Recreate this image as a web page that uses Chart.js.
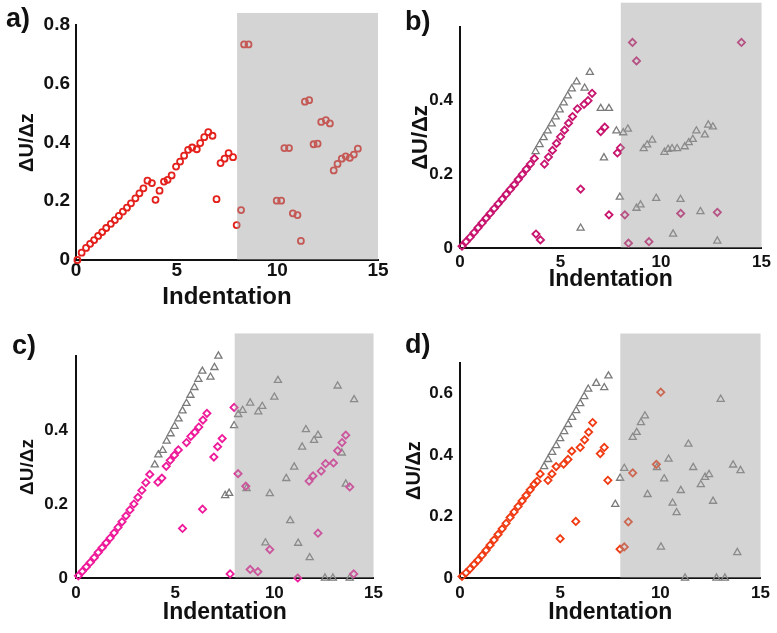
<!DOCTYPE html>
<html>
<head>
<meta charset="utf-8">
<script src="https://cdn.jsdelivr.net/npm/chart.js@4/dist/chart.umd.min.js"></script>
<style>
  body { margin: 0; background: #fff; }
  canvas { position: absolute; }
</style>
</head>
<body>
<canvas id="panelA" width="390" height="310" style="left:0;top:0"></canvas>
<canvas id="panelB" width="387" height="300" style="left:390px;top:0"></canvas>
<canvas id="panelC" width="390" height="333" style="left:0;top:300px"></canvas>
<canvas id="panelD" width="387" height="333" style="left:390px;top:300px"></canvas>
<script>
// tick labels
const xTicks = [0, 5, 10, 15];
const yTicksA = [0, 0.2, 0.4, 0.6, 0.8];
const yTicksB = [0, 0.2, 0.4];
const yTicksC = [0, 0.2, 0.4];
const yTicksD = [0, 0.2, 0.4, 0.6];

// a) circles
const aCircX = [0.07, 0.28, 0.5, 0.7, 0.9, 1.1, 1.3, 1.5, 1.73, 1.93, 2.13, 2.33, 2.53, 2.73, 2.95, 3.15, 3.35, 3.55, 3.77, 3.95,
  4.15, 4.37, 4.55, 4.75, 4.97, 5.17, 5.37, 5.57, 5.77, 6.0, 6.17, 6.37, 6.57, 6.78, 6.98, 7.18, 7.38, 7.58, 7.8, 7.98,
  8.2, 8.35, 8.57, 9.97, 10.19, 10.35, 10.58, 10.77, 11.0, 11.17, 11.37, 11.58, 11.8, 12.0, 12.18, 12.41, 12.61, 12.8,
  12.99, 13.2, 13.4, 13.6, 13.8, 14.0];
const aCircY = [0, 0.025, 0.041, 0.055, 0.068, 0.082, 0.095, 0.109, 0.123, 0.136, 0.15, 0.165, 0.178, 0.193, 0.21, 0.227, 0.244, 0.27, 0.262, 0.205,
  0.236, 0.267, 0.273, 0.288, 0.318, 0.335, 0.355, 0.375, 0.383, 0.377, 0.398, 0.418, 0.435, 0.423, 0.207, 0.33, 0.345, 0.364, 0.35, 0.119,
  0.17, 0.734, 0.734, 0.202, 0.202, 0.381, 0.381, 0.159, 0.153, 0.065, 0.539, 0.544, 0.394, 0.396, 0.47, 0.476, 0.465, 0.305,
  0.327, 0.345, 0.353, 0.348, 0.359, 0.379];

// b) diamonds + triangles
const bDiaX = [0.1, 0.3, 0.5, 0.7, 0.9, 1.1, 1.3, 1.5, 1.7, 1.9, 2.1, 2.3, 2.5, 2.7, 2.9, 3.1, 3.3, 3.5, 3.7,
  3.78, 4.0, 4.2, 4.4, 4.6, 4.8, 5.0, 5.2, 5.4, 5.6, 5.84, 6.0, 6.17, 6.37, 6.57, 7.0, 7.2, 7.41, 7.83, 7.98,
  8.2, 8.38, 8.58, 8.78, 9.4, 10.98, 12.8, 14.0];
const bDiaY = [0.005, 0.017, 0.029, 0.042, 0.055, 0.068, 0.081, 0.094, 0.107, 0.12, 0.133, 0.146, 0.159, 0.172, 0.186, 0.2, 0.214, 0.228, 0.243,
  0.038, 0.022, 0.228, 0.247, 0.265, 0.284, 0.302, 0.32, 0.339, 0.357, 0.378, 0.16, 0.39, 0.4, 0.42, 0.316, 0.328, 0.09, 0.258, 0.272,
  0.09, 0.013, 0.558, 0.508, 0.017, 0.094, 0.097, 0.558];
const bTriX = [3.76, 3.96, 4.16, 4.36, 4.56, 4.76, 4.96, 5.16, 5.36, 5.56, 5.8, 6.0, 6.2, 6.46, 7.0, 7.16, 7.41, 7.78, 7.95,
  8.12, 8.35, 8.78, 8.98, 9.14, 9.31, 9.56, 9.76, 10.17, 10.35, 10.55, 10.6, 10.8, 10.97, 11.18, 11.38, 11.58, 11.76,
  11.96, 12.18, 12.35, 12.58, 12.8];
const bTriY = [0.262, 0.281, 0.3, 0.318, 0.337, 0.356, 0.375, 0.394, 0.413, 0.432, 0.451, 0.054, 0.434, 0.477, 0.379, 0.245, 0.379, 0.318, 0.138,
  0.313, 0.323, 0.108, 0.117, 0.27, 0.28, 0.293, 0.135, 0.26, 0.268, 0.27, 0.038, 0.27, 0.132, 0.275, 0.286, 0.295, 0.318,
  0.099, 0.307, 0.334, 0.329, 0.019];

// c) diamonds + triangles
const cDiaX = [0.12, 0.32, 0.52, 0.72, 0.92, 1.12, 1.32, 1.52, 1.72, 1.92, 2.12, 2.32, 2.52, 2.72, 2.92, 3.12, 3.32, 3.52, 3.72,
  4.13, 4.33, 4.55, 4.75, 4.96, 5.16, 5.37, 5.57, 5.79, 5.99, 6.19, 6.38, 6.4, 6.6, 6.95, 7.14, 7.37, 7.77, 7.97, 8.17,
  8.56, 8.78, 9.17, 9.77, 11.18, 11.75, 11.95, 12.2, 12.36, 12.58, 12.98, 13.19, 13.41, 13.6, 13.8, 14.0];
const cDiaY = [0.006, 0.018, 0.03, 0.042, 0.055, 0.069, 0.082, 0.095, 0.108, 0.122, 0.137, 0.152, 0.168, 0.184, 0.2, 0.218, 0.237, 0.258, 0.28,
  0.259, 0.27, 0.302, 0.318, 0.332, 0.346, 0.134, 0.366, 0.383, 0.394, 0.408, 0.186, 0.427, 0.445, 0.327, 0.355, 0.377, 0.011, 0.461, 0.282,
  0.248, 0.023, 0.017, 0.077, 0, 0.262, 0.276, 0.121, 0.289, 0.309, 0.311, 0.344, 0.366, 0.386, 0.246, 0.011];
const cTriX = [3.97, 4.15, 4.37, 4.57, 4.77, 4.97, 5.17, 5.37, 5.57, 5.77, 5.97, 6.17, 6.37, 6.78, 6.98, 7.18, 7.52, 7.72, 7.97,
  8.18, 8.4, 8.6, 8.78, 9.19, 9.39, 9.55, 9.77, 10.0, 10.18, 10.6, 10.8, 11.0, 11.2, 11.4, 11.59, 11.78, 12.0, 12.2,
  12.55, 12.95, 13.19, 13.4, 13.6, 13.8, 14.02];
const cTriY = [0.306, 0.333, 0.345, 0.37, 0.39, 0.41, 0.43, 0.452, 0.472, 0.494, 0.515, 0.537, 0.559, 0.543, 0.569, 0.6, 0.223, 0.229, 0.412,
  0.442, 0.453, 0.242, 0.473, 0.449, 0.464, 0.095, 0.228, 0.489, 0.534, 0.269, 0.155, 0.3, 0.094, 0.354, 0.401, 0.055, 0.372, 0.386,
  0, 0, 0.519, 0.338, 0.254, 0, 0.482];

// d) diamonds + triangles
const dDiaX = [0.1, 0.3, 0.5, 0.7, 0.9, 1.1, 1.3, 1.5, 1.7, 1.9, 2.1, 2.3, 2.5, 2.7, 2.9, 3.1, 3.3, 3.5, 3.7, 3.85, 4.0,
  4.39, 4.59, 4.8, 5.0, 5.17, 5.39, 5.58, 5.78, 6.0, 6.22, 6.42, 6.62, 7.0, 7.2, 7.38, 7.99, 8.2, 8.4, 8.62, 9.8, 10.02];
const dDiaY = [0.005, 0.017, 0.03, 0.044, 0.058, 0.074, 0.09, 0.107, 0.124, 0.142, 0.16, 0.178, 0.197, 0.215, 0.233, 0.251, 0.269, 0.287, 0.305, 0.315, 0.339,
  0.318, 0.339, 0.363, 0.128, 0.371, 0.386, 0.413, 0.184, 0.425, 0.45, 0.475, 0.506, 0.405, 0.425, 0.318, 0.094, 0.101, 0.183, 0.342, 0.37, 0.605];
const dTriX = [4.2, 4.4, 4.6, 4.8, 5.0, 5.2, 5.4, 5.6, 5.8, 6.0, 6.2, 6.4, 6.8, 7.2, 7.41, 7.75, 7.99, 8.2, 8.62, 8.82, 9.03, 9.23,
  9.36, 9.83, 10.03, 10.19, 10.41, 10.61, 10.81, 11.02, 11.23, 11.4, 11.64, 12.02, 12.23, 12.43, 12.63, 12.8, 13.01, 13.22,
  13.63, 13.84, 14.0];
const dTriY = [0.363, 0.386, 0.409, 0.431, 0.454, 0.477, 0.5, 0.523, 0.545, 0.568, 0.591, 0.615, 0.634, 0.62, 0.658, 0.24, 0.325, 0.357, 0.458, 0.474, 0.506, 0.528,
  0.272, 0.36, 0.101, 0.323, 0.387, 0.244, 0.213, 0.285, 0, 0.436, 0.36, 0.304, 0.328, 0.337, 0.25, 0, 0.582, 0,
  0.368, 0.083, 0.35];

const FONT = "'Liberation Sans', Arial, Helvetica, sans-serif";
const INK = '#111';

function zip(xs, ys) {
  return xs.map((x, i) => ({ x: x, y: ys[i] }));
}

function markers(xs, ys, style, color, radius, width) {
  return {
    data: zip(xs, ys),
    pointStyle: style,
    pointRadius: radius,
    pointBorderWidth: width,
    pointBorderColor: color,
    pointBackgroundColor: 'rgba(0,0,0,0)',
    clip: false,
  };
}

// grey overlay over the region past indentation 8
const shadePlugin = {
  id: 'shade',
  afterDatasetsDraw(chart, args, opts) {
    if (!opts || opts.top === undefined) return;
    const xs = chart.scales.x, ys = chart.scales.y;
    const left = xs.getPixelForValue(opts.from);
    const right = xs.getPixelForValue(opts.to);
    const top = ys.getPixelForValue(opts.top);
    const bottom = ys.getPixelForValue(0);
    const ctx = chart.ctx;
    ctx.save();
    ctx.fillStyle = 'rgba(160,160,160,0.45)';
    ctx.fillRect(left, top, right - left, bottom - top);
    ctx.restore();
  }
};

const tagPlugin = {
  id: 'panelTag',
  afterDraw(chart, args, opts) {
    if (!opts || !opts.text) return;
    const ctx = chart.ctx;
    ctx.save();
    ctx.font = 'bold ' + opts.size + 'px ' + FONT;
    ctx.fillStyle = INK;
    ctx.textBaseline = 'middle';
    ctx.textAlign = 'left';
    ctx.fillText(opts.text, opts.x, opts.y);
    ctx.restore();
  }
};

Chart.register(shadePlugin, tagPlugin);

function makePanel(id, p) {
  const ctx = document.getElementById(id).getContext('2d');
  return new Chart(ctx, {
    type: 'scatter',
    data: { datasets: p.datasets },
    options: {
      responsive: false,
      animation: false,
      devicePixelRatio: 1,
      layout: { padding: { left: 0, top: p.padTop, right: p.padRight, bottom: 0 } },
      plugins: {
        legend: { display: false },
        tooltip: { enabled: false },
        shade: { from: 8, to: 15, top: p.shadeTop },
        panelTag: p.tag,
      },
      scales: {
        x: {
          type: 'linear',
          min: 0,
          max: 15,
          afterBuildTicks: (axis) => { axis.ticks = xTicks.map(v => ({ value: v })); },
          afterFit: (axis) => { axis.height = p.xAxisH; },
          grid: { display: false, drawTicks: false },
          border: { display: true, color: INK, width: 2 },
          ticks: {
            color: INK,
            padding: p.xTickPad,
            maxRotation: 0,
            font: { family: FONT, size: p.tickSize, weight: 'bold', lineHeight: 1 },
          },
          title: {
            display: true,
            text: 'Indentation',
            color: INK,
            font: { family: FONT, size: p.xTitleSize, weight: 'bold', lineHeight: 1 },
            padding: { top: 0, bottom: p.xTitlePad },
          },
        },
        y: {
          type: 'linear',
          min: 0,
          max: p.yMax,
          afterBuildTicks: (axis) => { axis.ticks = p.yTicks.map(v => ({ value: v })); },
          afterFit: (axis) => { axis.width = p.yAxisW; },
          grid: { display: false, drawTicks: false },
          border: { display: true, color: INK, width: 2 },
          ticks: {
            color: INK,
            padding: p.yTickPad,
            callback: (v) => (v === 0 ? '0' : String(v)),
            font: { family: FONT, size: p.tickSize, weight: 'bold', lineHeight: 1 },
          },
          title: {
            display: true,
            text: 'ΔU/Δz',
            color: INK,
            font: { family: FONT, size: p.yTitleSize, weight: 'bold', lineHeight: 1 },
            padding: { top: p.yTitlePad, bottom: 0 },
          },
        },
      },
    },
  });
}

const RED = '#e3201b';
const CRIMSON = '#c8146e';
const PINK = '#ee1a9a';
const ORANGE = '#f03a12';
const GREY = '#7a7a7a';

makePanel('panelA', {
  datasets: [markers(aCircX, aCircY, 'circle', RED, 3, 1.8)],
  padTop: 25, padRight: 12, yAxisW: 76, xAxisH: 50,
  yMax: 0.8, yTicks: yTicksA, shadeTop: 0.841,
  tickSize: 19, xTickPad: 1, yTickPad: 6,
  xTitleSize: 24, xTitlePad: 1, yTitleSize: 20, yTitlePad: 17,
  tag: { text: 'a)', x: 6, y: 20, size: 27 },
});

makePanel('panelB', {
  datasets: [markers(bDiaX, bDiaY, 'rectRot', CRIMSON, 3.6, 1.8), markers(bTriX, bTriY, 'triangle', GREY, 4.1, 1.3)],
  padTop: 27, padRight: 15, yAxisW: 70, xAxisH: 52,
  yMax: 0.6, yTicks: yTicksB, shadeTop: 0.666,
  tickSize: 17, xTickPad: 6, yTickPad: 7,
  xTitleSize: 23, xTitlePad: 9, yTitleSize: 22, yTitlePad: 20,
  tag: { text: 'b)', x: 15, y: 23, size: 27 },
});

makePanel('panelC', {
  datasets: [markers(cDiaX, cDiaY, 'rectRot', PINK, 3.6, 1.8), markers(cTriX, cTriY, 'triangle', GREY, 4.1, 1.3)],
  padTop: 56, padRight: 12, yAxisW: 76, xAxisH: 55,
  yMax: 0.6, yTicks: yTicksC, shadeTop: 0.661,
  tickSize: 17, xTickPad: 7, yTickPad: 8,
  xTitleSize: 23, xTitlePad: 9, yTitleSize: 19, yTitlePad: 18,
  tag: { text: 'c)', x: 12, y: 47, size: 27 },
});

makePanel('panelD', {
  datasets: [markers(dDiaX, dDiaY, 'rectRot', ORANGE, 3.6, 1.8), markers(dTriX, dTriY, 'triangle', GREY, 4.1, 1.3)],
  padTop: 63, padRight: 15, yAxisW: 70, xAxisH: 55,
  yMax: 0.7, yTicks: yTicksD, shadeTop: 0.796,
  tickSize: 17, xTickPad: 7, yTickPad: 7,
  xTitleSize: 23, xTitlePad: 9, yTitleSize: 20, yTitlePad: 14,
  tag: { text: 'd)', x: 15, y: 46, size: 27 },
});
</script>
</body>
</html>
